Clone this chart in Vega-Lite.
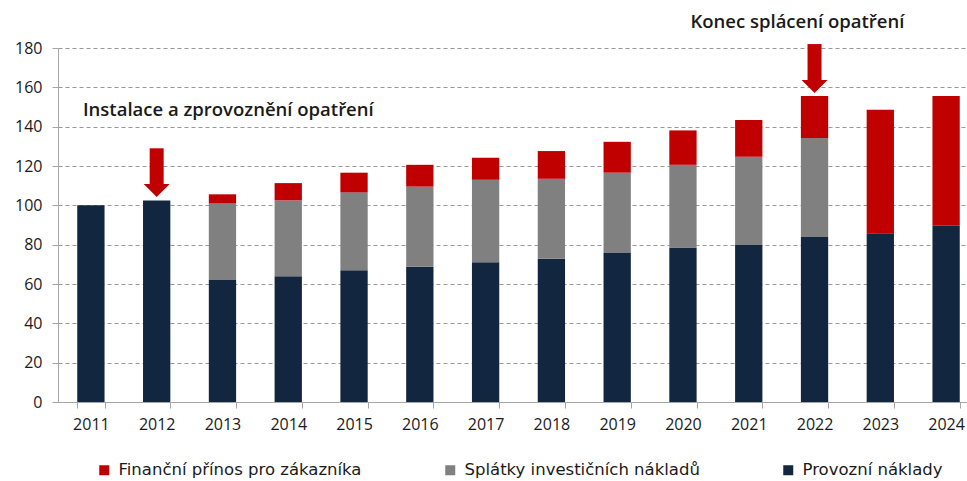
{
  "$schema": "https://vega.github.io/schema/vega-lite/v6.json",
  "width": 909,
  "height": 354,
  "autosize": {"type": "none"},
  "padding": {"left": 58, "top": 48, "right": 0, "bottom": 79},
  "background": "white",
  "config": {
    "view": {"stroke": null},
    "font": "Open Sans",
    "axis": {"labelFont": "Open Sans", "labelFontSize": 16, "labelColor": "#1a1a1a", "domainColor": "#a6a6a6", "tickColor": "#a6a6a6", "title": null},
    "legend": {"labelFont": "DejaVu Sans", "labelFontSize": 16.5, "labelColor": "#1a1a1a"}
  },
  "datasets": {
    "naklady": [
      {"rok": "2011", "serie": "Provozní náklady", "poradi": 1, "hodnota": 100},
      {"rok": "2012", "serie": "Provozní náklady", "poradi": 1, "hodnota": 102.5},
      {"rok": "2013", "serie": "Provozní náklady", "poradi": 1, "hodnota": 62},
      {"rok": "2013", "serie": "Splátky investičních nákladů", "poradi": 2, "hodnota": 39},
      {"rok": "2013", "serie": "Finanční přínos pro zákazníka", "poradi": 3, "hodnota": 4.6},
      {"rok": "2014", "serie": "Provozní náklady", "poradi": 1, "hodnota": 64},
      {"rok": "2014", "serie": "Splátky investičních nákladů", "poradi": 2, "hodnota": 38.5},
      {"rok": "2014", "serie": "Finanční přínos pro zákazníka", "poradi": 3, "hodnota": 8.8},
      {"rok": "2015", "serie": "Provozní náklady", "poradi": 1, "hodnota": 67},
      {"rok": "2015", "serie": "Splátky investičních nákladů", "poradi": 2, "hodnota": 39.6},
      {"rok": "2015", "serie": "Finanční přínos pro zákazníka", "poradi": 3, "hodnota": 10},
      {"rok": "2016", "serie": "Provozní náklady", "poradi": 1, "hodnota": 68.8},
      {"rok": "2016", "serie": "Splátky investičních nákladů", "poradi": 2, "hodnota": 40.7},
      {"rok": "2016", "serie": "Finanční přínos pro zákazníka", "poradi": 3, "hodnota": 11.1},
      {"rok": "2017", "serie": "Provozní náklady", "poradi": 1, "hodnota": 71},
      {"rok": "2017", "serie": "Splátky investičních nákladů", "poradi": 2, "hodnota": 42},
      {"rok": "2017", "serie": "Finanční přínos pro zákazníka", "poradi": 3, "hodnota": 11.2},
      {"rok": "2018", "serie": "Provozní náklady", "poradi": 1, "hodnota": 72.9},
      {"rok": "2018", "serie": "Splátky investičních nákladů", "poradi": 2, "hodnota": 40.6},
      {"rok": "2018", "serie": "Finanční přínos pro zákazníka", "poradi": 3, "hodnota": 14.1},
      {"rok": "2019", "serie": "Provozní náklady", "poradi": 1, "hodnota": 75.7},
      {"rok": "2019", "serie": "Splátky investičních nákladů", "poradi": 2, "hodnota": 40.9},
      {"rok": "2019", "serie": "Finanční přínos pro zákazníka", "poradi": 3, "hodnota": 15.7},
      {"rok": "2020", "serie": "Provozní náklady", "poradi": 1, "hodnota": 78.6},
      {"rok": "2020", "serie": "Splátky investičních nákladů", "poradi": 2, "hodnota": 42},
      {"rok": "2020", "serie": "Finanční přínos pro zákazníka", "poradi": 3, "hodnota": 17.5},
      {"rok": "2021", "serie": "Provozní náklady", "poradi": 1, "hodnota": 79.8},
      {"rok": "2021", "serie": "Splátky investičních nákladů", "poradi": 2, "hodnota": 44.9},
      {"rok": "2021", "serie": "Finanční přínos pro zákazníka", "poradi": 3, "hodnota": 18.7},
      {"rok": "2022", "serie": "Provozní náklady", "poradi": 1, "hodnota": 83.9},
      {"rok": "2022", "serie": "Splátky investičních nákladů", "poradi": 2, "hodnota": 50.3},
      {"rok": "2022", "serie": "Finanční přínos pro zákazníka", "poradi": 3, "hodnota": 21.4},
      {"rok": "2023", "serie": "Provozní náklady", "poradi": 1, "hodnota": 85.8},
      {"rok": "2023", "serie": "Finanční přínos pro zákazníka", "poradi": 3, "hodnota": 62.8},
      {"rok": "2024", "serie": "Provozní náklady", "poradi": 1, "hodnota": 89.6},
      {"rok": "2024", "serie": "Finanční přínos pro zákazníka", "poradi": 3, "hodnota": 66}
    ],
    "sipky": [
      {"rok": "2012", "zacatek": 129, "hrot": 110.8},
      {"rok": "2022", "zacatek": 182, "hrot": 163.7}
    ],
    "popisky": [
      {"rok": "2013", "y": 148.4, "text": "Instalace a zprovoznění opatření", "posun": 19.5},
      {"rok": "2022", "y": 193, "text": "Konec splácení opatření", "posun": -3.5}
    ]
  },
  "encoding": {
    "x": {
      "field": "rok",
      "type": "ordinal",
      "scale": {"range": [0, 921], "paddingInner": 0.585, "paddingOuter": 0.2925},
      "axis": {"labelAngle": 0, "tickBand": "extent", "tickSize": 6, "labelPadding": 8, "domainWidth": 1}
    },
    "y": {
      "type": "quantitative",
      "scale": {"domain": [0, 180], "nice": false},
      "axis": {"values": [0, 20, 40, 60, 80, 100, 120, 140, 160, 180], "labelOverlap": false, "grid": true, "gridColor": "#999999", "gridDash": [4, 3], "gridWidth": 1, "tickSize": 6, "labelPadding": 10}
    }
  },
  "layer": [
    {
      "data": {"name": "naklady"},
      "mark": {"type": "bar"},
      "encoding": {
        "y": {"field": "hodnota", "type": "quantitative", "stack": "zero"},
        "color": {
          "field": "serie",
          "type": "nominal",
          "scale": {
            "domain": ["Finanční přínos pro zákazníka", "Splátky investičních nákladů", "Provozní náklady"],
            "range": ["#c00000", "#808080", "#12263f"]
          },
          "legend": {
            "orient": "none",
            "legendX": 38,
            "legendY": 414,
            "direction": "horizontal",
            "title": null,
            "symbolType": "square",
            "symbolSize": 100,
            "symbolStrokeWidth": 0,
            "labelOffset": 6,
            "labelLimit": 400,
            "columnPadding": 80,
            "gridAlign": "none"
          }
        },
        "order": {"field": "poradi", "type": "quantitative", "sort": "ascending"}
      }
    },
    {
      "data": {"name": "sipky"},
      "mark": {"type": "rule", "color": "#c00000", "strokeWidth": 14},
      "encoding": {
        "y": {"field": "zacatek", "type": "quantitative"},
        "y2": {"field": "hrot"}
      }
    },
    {
      "data": {"name": "sipky"},
      "mark": {"type": "point", "shape": "M-1,0L1,0L0,1Z", "size": 676, "filled": true, "color": "#c00000", "opacity": 1, "strokeWidth": 0},
      "encoding": {
        "y": {"field": "hrot", "type": "quantitative"}
      }
    },
    {
      "data": {"name": "popisky"},
      "mark": {"type": "text", "font": "Open Sans", "fontSize": 18.5, "fontWeight": 600, "color": "#1a1a1a", "align": "center", "baseline": "middle"},
      "encoding": {
        "y": {"field": "y", "type": "quantitative"},
        "text": {"field": "text"},
        "xOffset": {"field": "posun", "type": "quantitative", "scale": null}
      }
    }
  ]
}
